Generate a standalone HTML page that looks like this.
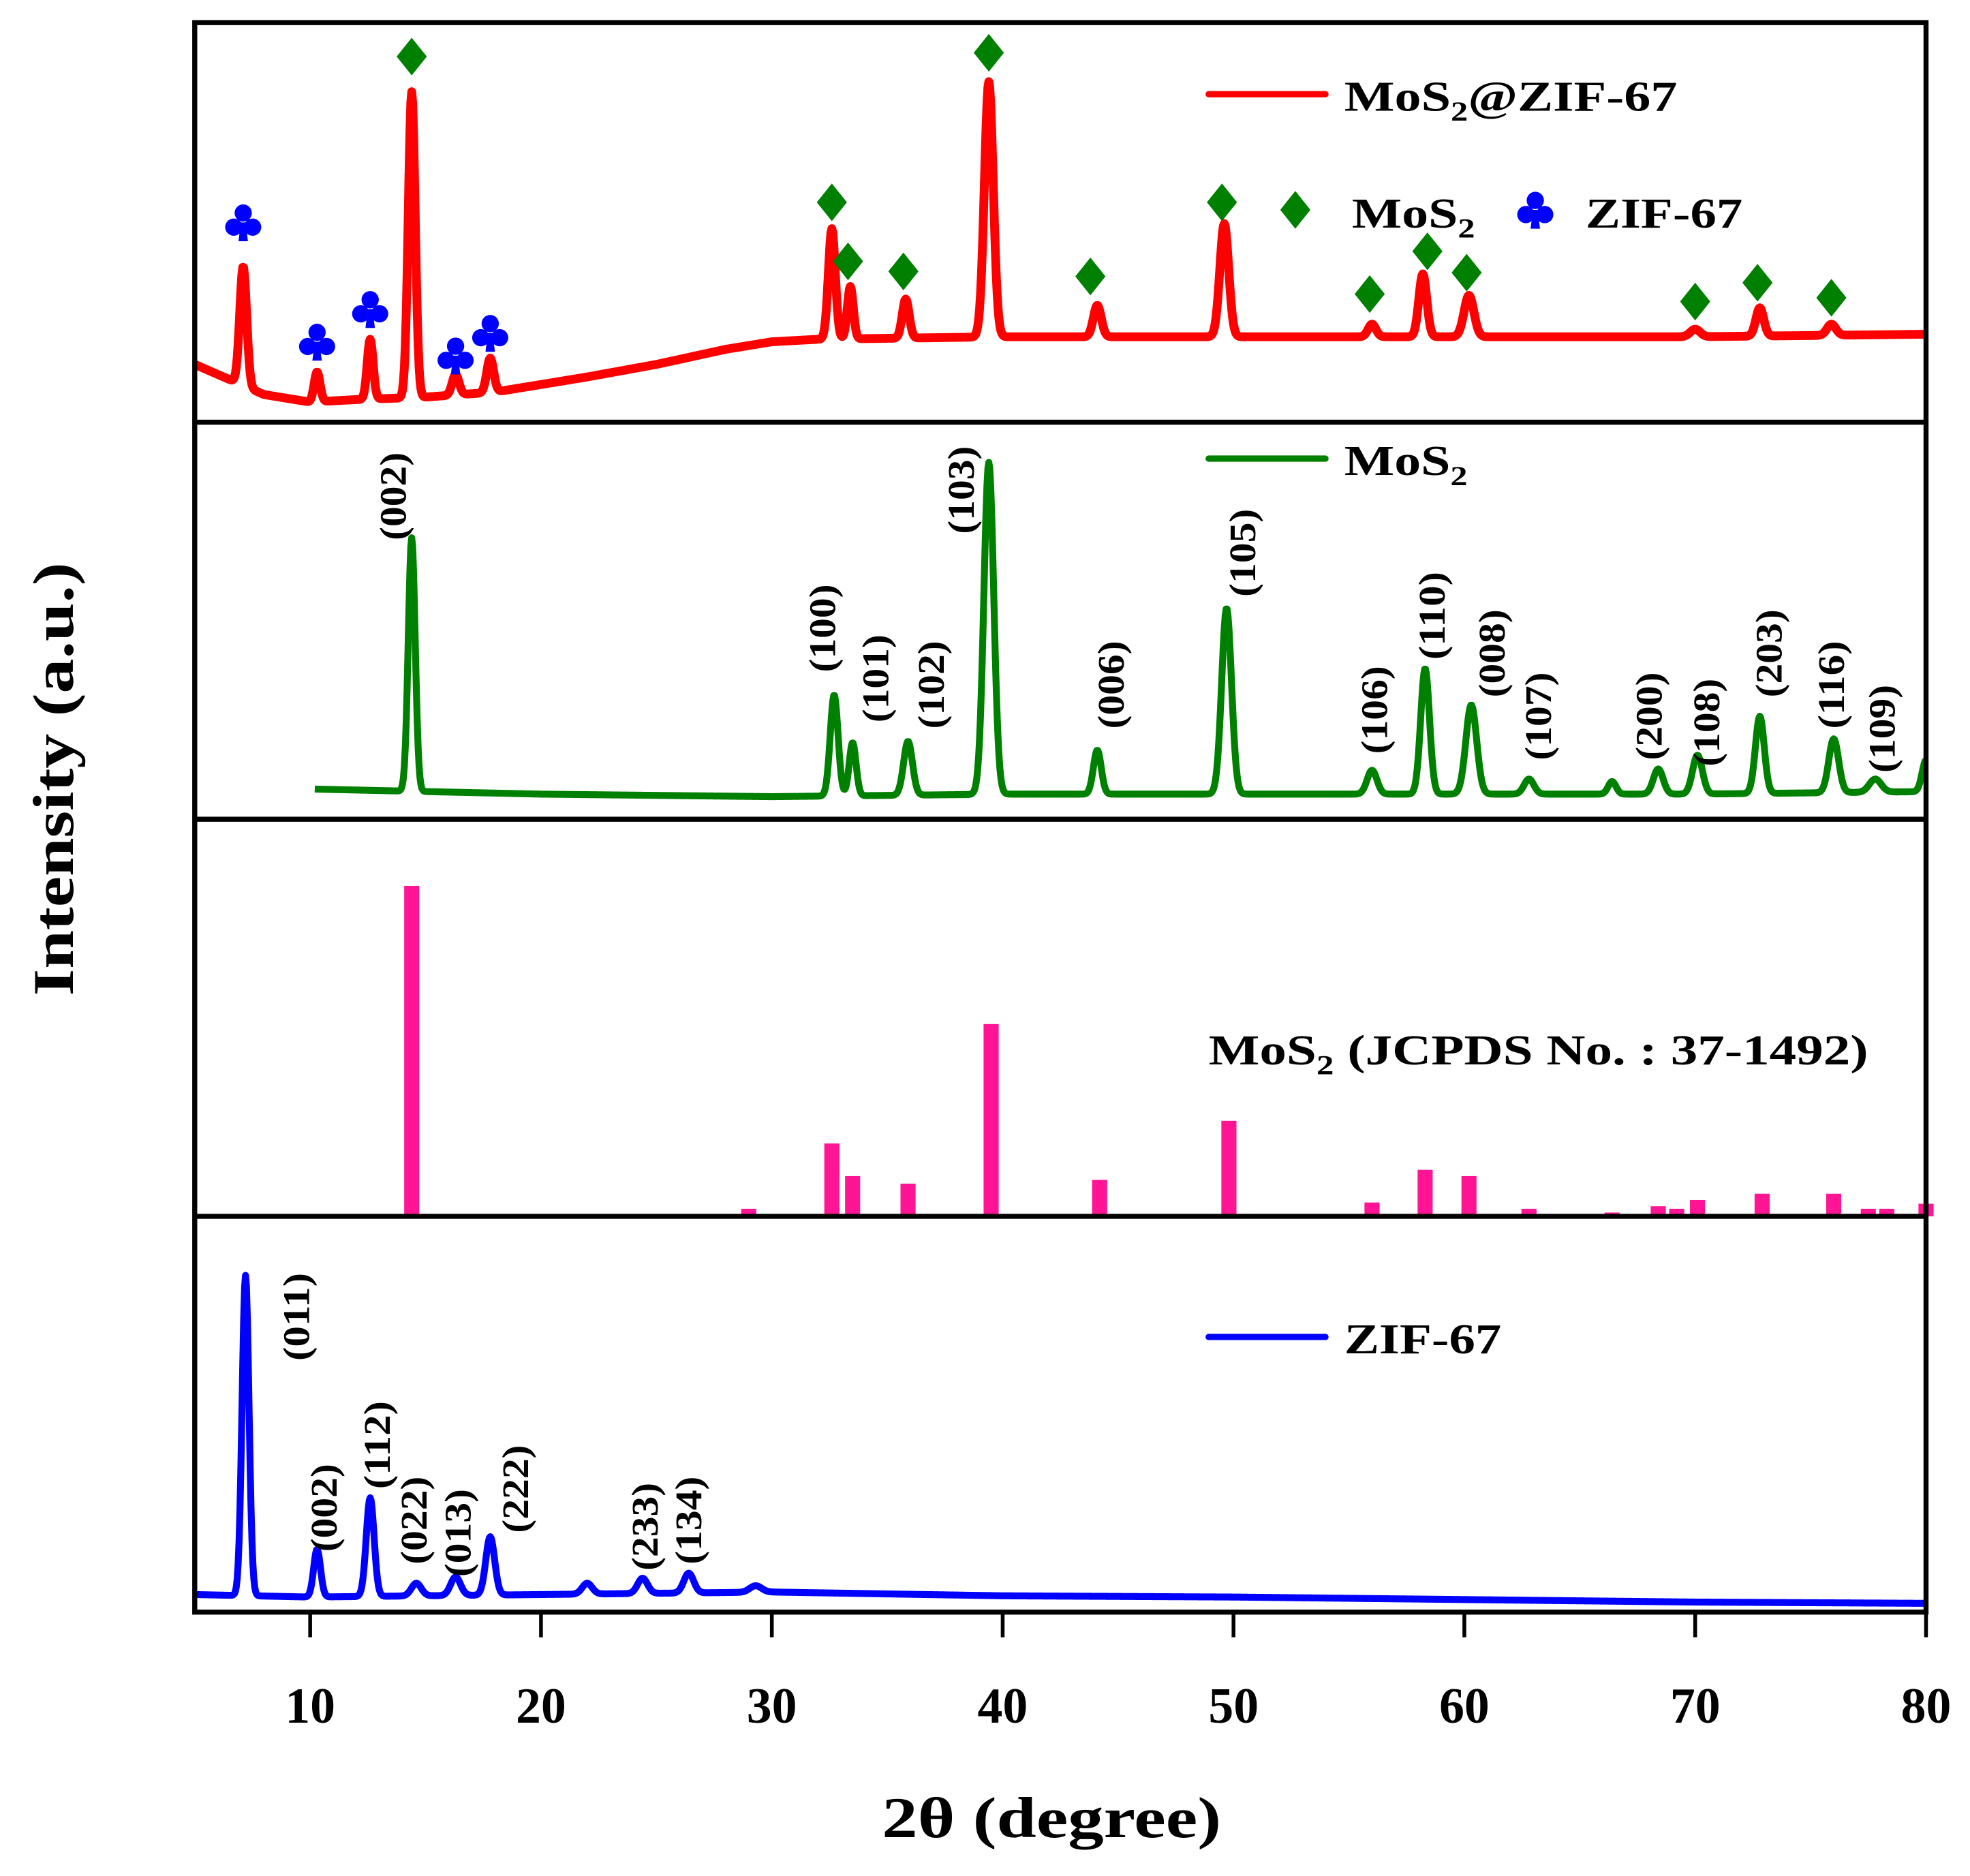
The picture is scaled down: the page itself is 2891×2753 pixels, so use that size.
<!DOCTYPE html>
<html><head><meta charset="utf-8"><style>
html,body{margin:0;padding:0;background:#fff;}
svg{display:block;}
text{font-family:"Liberation Serif","Times New Roman",serif;font-weight:bold;fill:#000;}
</style></head><body>
<svg id="chart" width="2891" height="2753" viewBox="0 0 1568 1493" preserveAspectRatio="none" xmlns="http://www.w3.org/2000/svg">
<g id="series"></g>
<g id="frame">
<rect x="155" y="18" width="1378" height="1265" fill="none" stroke="#000" stroke-width="4"/>
<line x1="155" y1="336" x2="1533" y2="336" stroke="#000" stroke-width="4"/>
<line x1="155" y1="652" x2="1533" y2="652" stroke="#000" stroke-width="4"/>
<line x1="155" y1="968" x2="1533" y2="968" stroke="#000" stroke-width="4"/>
</g>
<g id="xaxis"></g>
<text x="837" y="1462" font-size="46" text-anchor="middle" textLength="270" lengthAdjust="spacingAndGlyphs">2θ (degree)</text>
<text transform="translate(58,620) rotate(-90)" font-size="46" text-anchor="middle" textLength="345" lengthAdjust="spacingAndGlyphs">Intensity (a.u.)</text>
<g>
<line x1="962" y1="75" x2="1055" y2="75" stroke="#ff0000" stroke-width="5" stroke-linecap="round"/>
<text x="1070" y="88" font-size="34" textLength="265" lengthAdjust="spacingAndGlyphs">MoS<tspan font-size="22" dy="8">2</tspan><tspan dy="-8">@ZIF-67</tspan></text>
</g>
<g>
<text x="1076" y="181" font-size="34" textLength="98" lengthAdjust="spacingAndGlyphs">MoS<tspan font-size="22" dy="8">2</tspan></text>
<text x="1262" y="181" font-size="34" textLength="125" lengthAdjust="spacingAndGlyphs">ZIF-67</text>
</g>
<g>
<line x1="962" y1="365" x2="1055" y2="365" stroke="#008000" stroke-width="5" stroke-linecap="round"/>
<text x="1070" y="378" font-size="34" textLength="98" lengthAdjust="spacingAndGlyphs">MoS<tspan font-size="22" dy="8">2</tspan></text>
</g>
<g>
<text x="962" y="847" font-size="34" textLength="525" lengthAdjust="spacingAndGlyphs">MoS<tspan font-size="22" dy="8">2</tspan><tspan dy="-8"> (JCPDS No. : 37-1492)</tspan></text>
</g>
<g>
<line x1="962" y1="1064" x2="1055" y2="1064" stroke="#0000ff" stroke-width="5" stroke-linecap="round"/>
<text x="1070" y="1077" font-size="34" textLength="125" lengthAdjust="spacingAndGlyphs">ZIF-67</text>
</g>
<g id="markers"></g>
<g id="labels"></g>
</svg>
<script>
// x ticks
const xTicks = [10,20,30,40,50,60,70,80];
// Panel 1: MoS2@ZIF-67 (red)
const redBgX = [5,6,8,10,12,15,18,20,22,25,28,30,32,40,50,60,70,80];
const redBgY = [46,38,22,16,18,20,24,30,36,46,58,64,66,68,68,68,68,70];
const redPeakPos = [7.1,10.3,12.6,14.4,16.3,17.8,32.6,33.4,35.8,39.4,44.1,49.6,56,58.2,60.2,70,72.8,75.9];
const redPeakTop = [124,40,66,263,38,51,154,108,98,271,93,158,78,118,101,74,91,78];
const redPeakW = [0.35,0.3,0.3,0.35,0.35,0.35,0.35,0.3,0.35,0.45,0.4,0.45,0.4,0.4,0.5,0.5,0.4,0.45];
// Panel 2: MoS2 (green)
const grnBgX = [10.2,20,30,40,50,60,70,80];
const grnBgY = [24,20,18,20,20,20,20,22];
const grnPeakPos = [14.4,32.7,33.5,35.9,39.4,44.1,49.7,56,58.3,60.3,62.8,66.4,68.4,70.1,72.8,76,77.8,80];
const grnPeakTop = [224,99,61,62,284,55,168,39,120,91,32,30,40,51,82,64,32,47];
const grnPeakW = [0.35,0.4,0.35,0.45,0.5,0.4,0.5,0.5,0.45,0.55,0.5,0.4,0.5,0.5,0.45,0.5,0.6,0.4];
// Panel 3: JCPDS bars (pink)
const barPos = [14.4,29,32.6,33.5,35.9,39.5,44.2,49.8,56,58.3,60.2,62.8,66.4,68.4,69.2,70.1,72.9,76.0,77.5,78.3,80];
const barTop = [263,6,58,32,26,153,29,76,11,37,32,6,3,8,6,13,18,18,6,6,10];
// Panel 4: ZIF-67 (blue)
const bluBgX = [5,10,20,30,40,50,60,70,80];
const bluBgY = [14,12,14,16,13,12,10,8,7];
const bluPeakPos = [7.2,10.3,12.6,14.6,16.3,17.8,22,24.4,26.4,29.3];
const bluPeakTop = [268,50,91,23,28,60,23,27,31,21];
const bluPeakW = [0.35,0.35,0.4,0.5,0.5,0.45,0.5,0.5,0.5,0.6];
// markers
const clubPos = [7.1,10.3,12.6,16.3,17.8];
const clubH = [159,64,90,53,71];
const diaPos = [14.4,39.4,32.6,33.3,35.7,43.8,49.5,55.9,58.4,60.1,70,72.7,75.9];
const diaH = [291,294,175,128,120,116,175,102,136,119,96,111,99];
// hkl labels
const grnLabels = ["(002)","(100)","(101)","(102)","(103)","(006)","(105)","(106)","(110)","(008)","(107)","(200)","(108)","(203)","(116)","(109)"];
const grnLabelPos = [13.6,32.2,34.5,36.9,38.2,44.7,50.4,56.1,58.6,61.2,63.2,68,70.5,73.2,75.9,78.1];
const grnLabelH = [257,152,112,107,262,107,212,87,162,132,82,82,77,132,107,72];
const bluLabels = ["(011)","(002)","(112)","(022)","(013)","(222)","(233)","(134)"];
const bluLabelPos = [9.4,10.6,12.9,14.5,16.4,18.9,24.5,26.4];
const bluLabelH = [235,83,133,73,63,98,68,73];

const NS="http://www.w3.org/2000/svg";
const X0=155, X1=1533, D0=5, D1=80, K=1;
function xs(v){return X0+(v-D0)*(X1-X0)/(D1-D0);}
function mk(tag,attrs,parent){const e=document.createElementNS(NS,tag);for(const k in attrs)e.setAttribute(k,attrs[k]);parent.appendChild(e);return e;}
function interp(xa,ya,x){if(x<=xa[0])return ya[0];for(let i=1;i<xa.length;i++){if(x<=xa[i]){const t=(x-xa[i-1])/(xa[i]-xa[i-1]);return ya[i-1]+t*(ya[i]-ya[i-1]);}}return ya[ya.length-1];}
function curve(bx,by,pp,pt,pw,start){
  const pts=[];
  for(let x=start;x<=80.0001;x+=0.04){
    const b=interp(bx,by,x);let s=0;
    for(let i=0;i<pp.length;i++){const a=pt[i]-interp(bx,by,pp[i]);const sig=pw[i]/2.355;s+=a*Math.exp(-((x-pp[i])**2)/(2*sig*sig));}
    pts.push([x,b+s]);
  }
  return pts;
}
const series=document.getElementById('series');
function drawLine(pts,bottom,color,name,sw){
  const d=pts.map((p,i)=>(i?'L':'M')+xs(p[0]).toFixed(2)+' '+(bottom-p[1]*K).toFixed(2)).join(' ');
  const p=mk('path',{d:d,fill:'none',stroke:color,'stroke-width':sw,'stroke-linejoin':'round'},series);
  
  
}
drawLine(curve(redBgX,redBgY,redPeakPos,redPeakTop,redPeakW,5),336,'#ff0000','mos2-zif67-line',7);
drawLine(curve(grnBgX,grnBgY,grnPeakPos,grnPeakTop,grnPeakW,10.2),652,'#008000','mos2-line',5.5);
drawLine(curve(bluBgX,bluBgY,bluPeakPos,bluPeakTop,bluPeakW,5),1283,'#0000ff','zif67-line',5.5);
for(let i=0;i<barPos.length;i++){
  const w=12;const x=Math.min(xs(barPos[i])-w/2,X1-w/2);
  const r=mk('rect',{x:x,y:968-barTop[i],width:w,height:barTop[i],fill:'#ff1493'},series);
  
  
}
// x axis ticks
const xa=document.getElementById('xaxis');
for(const t of xTicks){
  const l=mk('line',{x1:xs(t),y1:1283,x2:xs(t),y2:1303,stroke:'#000','stroke-width':3},xa);
  
  
  const tx=mk('text',{x:xs(t),y:1371,'font-size':40,'text-anchor':'middle'},xa);
  tx.textContent=String(t);
  
  
}
// markers
const mg=document.getElementById('markers');
function club(cx,cy,name){
  const g=mk('g',{transform:`translate(${cx},${cy}) scale(1.25)`,fill:'#0000ff'},mg);
  
  
  mk('circle',{cx:0,cy:-6,r:5.5},g);mk('circle',{cx:-6,cy:3,r:5.5},g);mk('circle',{cx:6,cy:3,r:5.5},g);
  mk('path',{d:'M-1.5 0 L1.5 0 L3 12 L-3 12 Z'},g);
}
function diamond(cx,cy,name){
  const p=mk('path',{d:`M${cx} ${cy-15} L${cx+12} ${cy} L${cx} ${cy+15} L${cx-12} ${cy} Z`,fill:'#008000'},mg);
  
  
}
for(let i=0;i<clubPos.length;i++) club(xs(clubPos[i]),336-clubH[i],'zif67-marker');
for(let i=0;i<diaPos.length;i++) diamond(xs(diaPos[i]),336-diaH[i],'mos2-marker');
diamond(1031,167,'legend-mos2-marker');
club(1222,167,'legend-zif67-marker');
// labels
const lg=document.getElementById('labels');
function vlabel(txt,x,y,name){
  const t=mk('text',{transform:`translate(${x},${y}) rotate(-90)`,'font-size':30,'text-anchor':'middle','dominant-baseline':'central',textLength:70,lengthAdjust:'spacingAndGlyphs'},lg);
  t.textContent=txt;
  
  
}
for(let i=0;i<grnLabels.length;i++) vlabel(grnLabels[i],xs(grnLabelPos[i]),652-grnLabelH[i],'mos2-hkl-label');
for(let i=0;i<bluLabels.length;i++) vlabel(bluLabels[i],xs(bluLabelPos[i]),1283-bluLabelH[i],'zif67-hkl-label');
</script>
</body></html>
